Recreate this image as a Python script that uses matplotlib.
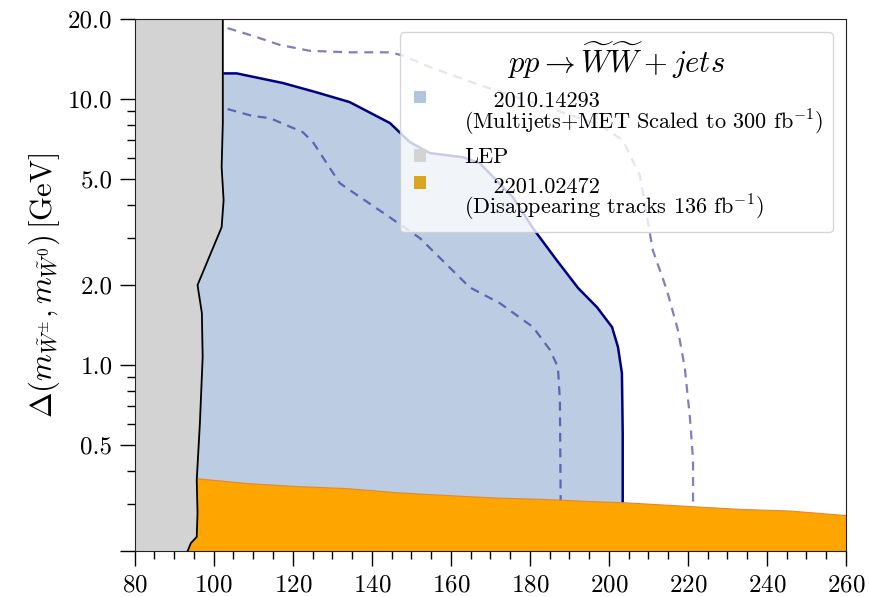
import matplotlib
matplotlib.use("Agg")
import matplotlib.pyplot as plt
from matplotlib.patches import Patch, Rectangle
from matplotlib.legend_handler import HandlerBase
from matplotlib.ticker import FixedLocator, FixedFormatter

plt.rcParams['font.family'] = 'serif'
plt.rcParams['font.serif'] = ['cmr10', 'DejaVu Serif']
plt.rcParams['mathtext.fontset'] = 'cm'
plt.rcParams['axes.formatter.use_mathtext'] = True

# LEP exclusion boundary (mass, delta m)
lep_x = [102.3, 102.3, 102.0, 102.5, 102.0, 95.9, 97.0, 97.2, 96.5, 95.7, 95.9, 95.7, 94.2, 93.4]
lep_y = [20.0, 8.13, 5.56, 4.17, 3.30, 2.0, 1.57, 1.07, 0.605, 0.370, 0.278, 0.226, 0.214, 0.2]

# 2010.14293 central (solid) contour
mj_x = [102.3, 105.8, 117.5, 126.1, 134.4, 144.6, 149.6, 154.7, 163.0, 167.3, 175.7, 180.8,
        186.8, 192.2, 197.0, 200.8, 202.3, 203.3, 203.5, 203.5]
mj_y = [12.5, 12.5, 11.5, 10.6, 9.75, 8.13, 6.90, 6.27, 6.05, 5.75, 4.28, 3.27,
        2.48, 1.95, 1.65, 1.39, 1.17, 0.933, 0.556, 0.30]

# inner (-1 sigma) dashed contour
mj_lo_x = [103.5, 109.9, 114.2, 122.5, 125.1, 131.9, 133.7, 143.8, 152.2, 164.8, 172.4,
           180.8, 185.1, 187.1, 187.6, 187.8]
mj_lo_y = [9.18, 8.64, 8.49, 7.52, 6.90, 4.83, 4.63, 3.66, 3.00, 1.96, 1.71,
           1.39, 1.14, 0.984, 0.740, 0.31]

# outer (+1 sigma) dashed contour
mj_hi_x = [103.5, 109.9, 116.7, 124.3, 134.4, 144.6, 147.8, 154.7, 167.3, 185.1, 197.7,
           203.5, 207.8, 209.6, 211.1, 214.7, 217.5, 219.2, 220.5, 221.3, 221.3]
mj_hi_y = [18.5, 17.3, 16.0, 15.2, 15.0, 15.0, 14.6, 13.2, 11.3, 9.25, 8.0,
           7.02, 5.18, 3.66, 2.71, 1.91, 1.35, 0.98, 0.638, 0.440, 0.295]

# 2201.02472 disappearing tracks upper edge
dt_x = [92.0, 96.1, 108.6, 121.0, 133.4, 146.0, 158.4, 170.9, 183.3, 195.8, 203.9, 220.8, 233.2, 245.7, 260.0]
dt_y = [0.377, 0.375, 0.360, 0.351, 0.345, 0.333, 0.325, 0.318, 0.314, 0.308, 0.305, 0.295, 0.288, 0.284, 0.273]


class SquareHandler(HandlerBase):
    # small square marker, optionally lifted to sit on the first text line
    def __init__(self, shift=0.0):
        super().__init__()
        self.shift = shift

    def create_artists(self, legend, orig_handle, xdescent, ydescent, width, height, fontsize, trans):
        s = 0.55 * fontsize
        x0 = -xdescent + (width - s) / 2
        y0 = -ydescent + (height - s) / 2 + self.shift * fontsize
        return [Rectangle((x0, y0), s, s, facecolor=orig_handle.get_facecolor(), lw=0, transform=trans)]


fig, ax = plt.subplots(figsize=(8.69, 5.97), dpi=100)
fig.subplots_adjust(left=0.155, right=0.9735, top=0.968, bottom=0.077)

ymin, ymax = 0.2, 20.0

# blue region
ax.fill([90] + mj_x + [mj_x[-1], 90], [mj_y[0]] + mj_y + [ymin, ymin],
        color='lightsteelblue', alpha=0.85, lw=0, zorder=1)
ax.plot(mj_x, mj_y, color='navy', lw=1.8, zorder=2)
ax.plot(mj_lo_x, mj_lo_y, color='navy', alpha=0.5, lw=1.6, ls=(0, (4, 3)), zorder=2)
ax.plot(mj_hi_x, mj_hi_y, color='navy', alpha=0.5, lw=1.6, ls=(0, (4, 3)), zorder=2)

# disappearing tracks
ax.fill_between(dt_x, ymin, dt_y, facecolor='orange', edgecolor='#e08a30', lw=0.8, zorder=3)

# LEP
ax.fill_betweenx(lep_y, 80, lep_x, color='lightgray', lw=0, zorder=4)
ax.plot(lep_x, lep_y, color='black', lw=1.3, zorder=4)

for s in ax.spines.values():
    s.set_color('#222222')
    s.set_zorder(6)

ax.set_xlim(80, 260)
ax.set_yscale('log')
ax.set_ylim(ymin, ymax)
ax.set_xticks(range(80, 261, 20))
ax.set_xticks(range(80, 261, 5), minor=True)
ax.yaxis.set_major_locator(FixedLocator([0.2, 0.5, 1, 2, 5, 10, 20]))
ax.yaxis.set_major_formatter(FixedFormatter(['', '0.5', '1.0', '2.0', '5.0', '10.0', '20.0']))
ax.yaxis.set_minor_formatter(FixedFormatter([]))
ax.tick_params(which='major', length=11, width=1, labelsize=18, pad=5)
ax.tick_params(axis='x', which='major', pad=6)
ax.tick_params(which='minor', length=5.5, width=1)
ax.set_ylabel(r'$\Delta(m_{\tilde{W}^{\pm}}, m_{\tilde{W}^{0}})\,[\mathrm{GeV}]$', fontsize=22, labelpad=4)

h_mj = Patch(facecolor='lightsteelblue')
h_lep = Patch(facecolor='lightgray')
h_dt = Patch(facecolor='goldenrod')
labels = [
    '    2010.14293\n(Multijets+MET Scaled to 300 fb$^{-1}$)',
    'LEP',
    '    2201.02472\n(Disappearing tracks 136 fb$^{-1}$)',
]
leg = ax.legend([h_mj, h_lep, h_dt], labels, loc='upper right', fontsize=16,
                title=r'$pp \rightarrow \widetilde{W}\widetilde{W} + jets$', title_fontsize=22,
                framealpha=0.8, handlelength=1.0, handletextpad=1.5, borderaxespad=0.6,
                labelspacing=0.45, borderpad=0.4,
                handler_map={h_mj: SquareHandler(0.8), h_lep: SquareHandler(0.0), h_dt: SquareHandler(0.8)})
for t in leg.get_texts():
    t.set_linespacing(0.85)
leg.set_zorder(10)

fig.savefig('out.png', dpi=100)
